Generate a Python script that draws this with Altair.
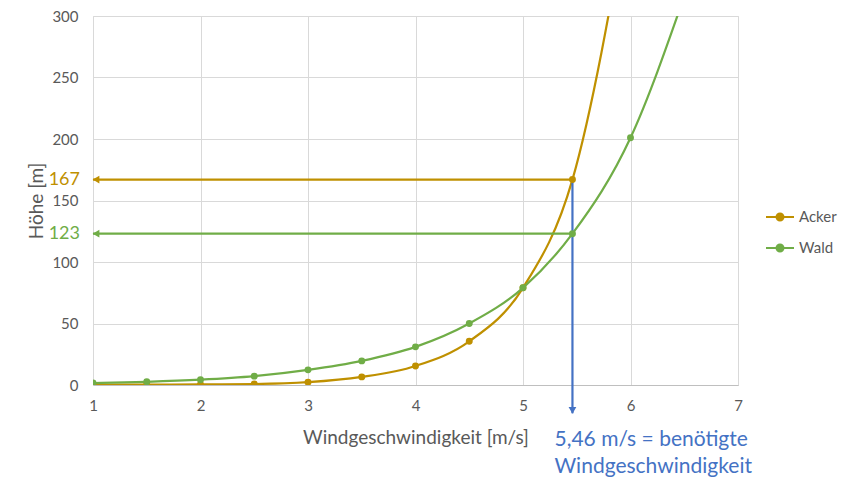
import altair as alt
import pandas as pd

# ---- data ----
x_acker = [1, 1.5, 2, 2.5, 3, 3.5, 4, 4.5, 5, 5.46, 6]
y_acker = [0.2, 0.3, 0.5, 0.8, 2.3, 6.6, 15.5, 35.5, 79, 167, 400]
x_wald = [1, 1.5, 2, 2.5, 3, 3.5, 4, 4.5, 5, 5.46, 6, 6.5]
y_wald = [1.6, 2.6, 4.3, 7.2, 12.3, 19.6, 31, 50, 79, 123, 201, 316]
series_names = ["Acker", "Wald"]
series_colors = ["#BF9000", "#70AD47"]
blue = "#4472C4"
v_needed = 5.46
h_acker = 167
h_wald = 123
x_ticks = [1, 2, 3, 4, 5, 6, 7]
y_ticks = [0, 50, 100, 150, 200, 250, 300]
annotation_lines = ["5,46 m/s = benötigte", "Windgeschwindigkeit"]
x_title = "Windgeschwindigkeit [m/s]"
y_title = "Höhe [m]"

FONT = "Lato"
GRAY = "#595959"

df = pd.DataFrame(
    {"v": x_acker + x_wald,
     "h": y_acker + y_wald,
     "series": ["Acker"] * len(x_acker) + ["Wald"] * len(x_wald)}
)

xs = alt.Scale(domain=[1, 7], nice=False, zero=False)
ys = alt.Scale(domain=[0, 300], nice=False)
cs = alt.Scale(domain=series_names, range=series_colors)

x_enc = alt.X("v:Q", scale=xs, axis=alt.Axis(
    values=x_ticks, format="d", labelFlush=False, title=x_title, grid=True, gridColor="#D9D9D9",
    domainColor="#BFBFBF", ticks=False, labelPadding=13,
    labelFontSize=15, labelColor=GRAY, labelFont=FONT,
    titleFontSize=19, titleColor=GRAY, titleFont=FONT, titleFontWeight="normal",
    titleY=52, titleBaseline="middle"))
y_enc = alt.Y("h:Q", scale=ys, axis=alt.Axis(
    values=y_ticks, title=y_title, grid=True, gridColor="#D9D9D9",
    domain=False, ticks=False, labelPadding=15, labelFlush=False,
    labelFontSize=15, labelColor=GRAY, labelFont=FONT,
    titleFontSize=19, titleColor=GRAY, titleFont=FONT, titleFontWeight="normal",
    titleX=-57, titleY=184.5, titleAngle=-90, titleBaseline="middle", titleAlign="center"))

legend_path = "M-1,0L1,0M0.25,0A0.25,0.25,0,1,1,-0.25,0A0.25,0.25,0,1,1,0.25,0Z"
leg = alt.Legend(title=None, orient="none", legendX=672, legendY=186,
                 symbolType=legend_path, symbolSize=784, symbolStrokeWidth=2,
                 symbolOpacity=1,
                 labelFontSize=15, labelColor=GRAY, labelFont=FONT,
                 rowPadding=8, labelOffset=4, padding=0)

lines = alt.Chart(df).mark_line(interpolate="monotone", strokeWidth=2.2, clip=True).encode(
    x=x_enc, y=y_enc,
    color=alt.Color("series:N", scale=cs, legend=leg),
)

points = alt.Chart(df).mark_point(filled=True, size=48, opacity=1, clip=True).encode(
    x="v:Q", y="h:Q",
    color=alt.Color("series:N", scale=cs, legend=leg),
)

# horizontal arrows
harr = pd.DataFrame({"x": [1, 1], "x2": [v_needed, v_needed], "y": [h_acker, h_wald],
                     "series": series_names, "label": [str(h_acker), str(h_wald)]})
hrules = alt.Chart(harr).mark_rule(strokeWidth=2.2).encode(
    x=alt.X("x:Q", scale=xs), x2="x2:Q", y=alt.Y("y:Q", scale=ys),
    color=alt.Color("series:N", scale=cs, legend=leg))
hheads = alt.Chart(harr).mark_point(shape="triangle-left", filled=True, size=60, opacity=1, xOffset=3).encode(
    x=alt.X("x:Q", scale=xs), y=alt.Y("y:Q", scale=ys),
    color=alt.Color("series:N", scale=cs, legend=leg))
hlabels = alt.Chart(harr).mark_text(align="right", baseline="middle", dx=-13, fontSize=18, font=FONT).encode(
    x=alt.X("x:Q", scale=xs), y=alt.Y("y:Q", scale=ys), text="label:N",
    color=alt.Color("series:N", scale=cs, legend=leg))

# vertical blue arrow
varr = pd.DataFrame({"x": [v_needed], "y": [h_acker], "y2": [-23]})
vrule = alt.Chart(varr).mark_rule(strokeWidth=2.2, color=blue).encode(
    x=alt.X("x:Q", scale=xs), y=alt.Y("y:Q", scale=ys), y2="y2:Q")
vhead = alt.Chart(varr).mark_point(shape="triangle-down", filled=True, size=60, opacity=1, color=blue, yOffset=-3).encode(
    x=alt.X("x:Q", scale=xs), y=alt.Y("y2:Q", scale=ys))

ann = pd.DataFrame({"x": [v_needed], "y": [-36], "text": [annotation_lines]})
vtext = alt.Chart(ann).mark_text(align="left", baseline="top", dx=-18, fontSize=21,
                                 lineHeight=27, color=blue, font=FONT).encode(
    x=alt.X("x:Q", scale=xs), y=alt.Y("y:Q", scale=ys), text="text")

chart = alt.layer(lines, hrules, vrule, points, hheads, vhead, hlabels, vtext).properties(
    width=645, height=369,
    autosize=alt.AutoSizeParams(type="none"),
    padding={"left": 93, "top": 16, "right": 123, "bottom": 94},
).configure_view(strokeWidth=0).configure(background="white")

chart.save("out.html", embed_options={"renderer": "svg", "actions": False})
